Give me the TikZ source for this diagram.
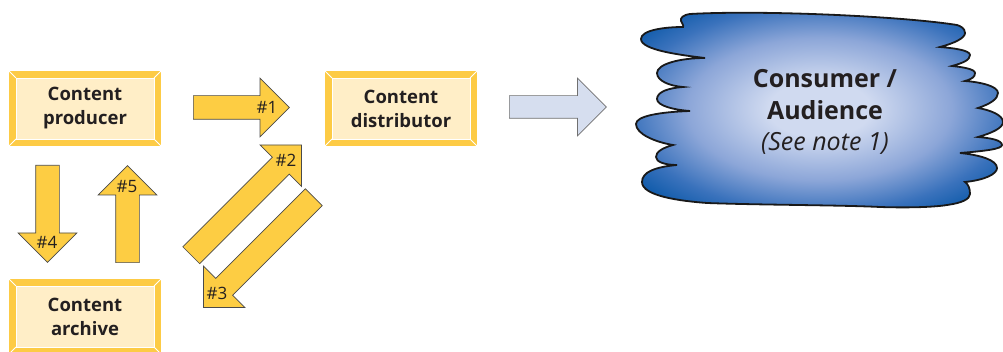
\documentclass[tikz,border=0pt]{standalone}
\usepackage{fontspec}
\setmainfont{Open Sans}
\usetikzlibrary{shapes.arrows,calc}

\definecolor{boxgold}{HTML}{FDCB45}
\definecolor{boxcream}{HTML}{FFEEC7}
\definecolor{arrowgold}{HTML}{FDCD43}
\definecolor{arrowline}{HTML}{4A4A4A}
\definecolor{paleblue}{HTML}{D6DEEF}
\definecolor{paleline}{HTML}{707070}
\definecolor{inktext}{HTML}{231F20}
\definecolor{cloudlight}{HTML}{D0DAF0}
\definecolor{cloudmid}{HTML}{8CA6D8}
\definecolor{clouddeep}{HTML}{3A72BC}
\definecolor{clouddark}{HTML}{0A58A8}

\pgfdeclareradialshading{cloudshade}{\pgfpoint{0bp}{0bp}}{%
  color(0bp)=(cloudlight); color(7bp)=(cloudlight);
  color(18bp)=(cloudmid); color(26bp)=(clouddeep);
  color(32bp)=(clouddark); color(50bp)=(clouddark)}

\tikzset{
  cbox/.style={minimum width=152pt, minimum height=75pt, inner sep=0pt,
    fill=boxgold, align=center, text=inktext,
    font=\fontsize{18.5}{24}\selectfont\bfseries,
    path picture={
      \coordinate (sw) at (path picture bounding box.south west);
      \coordinate (ne) at (path picture bounding box.north east);
      \coordinate (nw) at (path picture bounding box.north west);
      \coordinate (se) at (path picture bounding box.south east);
      \fill[boxcream, draw=white, line width=0.8pt]
        ($(sw)+(7pt,7pt)$) rectangle ($(ne)+(-7pt,-7pt)$);
      \draw[white, line width=0.8pt]
        (sw) -- ++(7pt,7pt) (ne) -- ++(-7pt,-7pt)
        (nw) -- ++(7pt,-7pt) (se) -- ++(-7pt,7pt);
    }},
  flowarrow/.style={single arrow, anchor=tail, inner xsep=0pt,
    inner ysep=11.5pt, single arrow head extend=17.5pt,
    fill=arrowgold, draw=arrowline, line width=0.7pt},
  steplabel/.style={text=inktext, inner sep=0pt,
    font=\fontsize{17}{20}\selectfont},
}

\begin{document}
\begin{tikzpicture}[x=1pt, y=-1pt]
  \useasboundingbox (0,0) rectangle (1003,352);

  % boxes
  \node[cbox] (producer)    at (85,108.5)  {Content\\producer};
  \node[cbox] (distributor) at (401,108.5) {Content\\distributor};
  \node[cbox] (archive)     at (85,316.5)  {Content\\archive};

  % numbered arrows
  \node[flowarrow, minimum height=96pt]              (a1) at (193,107.5) {};
  \node[flowarrow, minimum height=156pt, rotate=45]  (a2) at (191,255.5) {};
  \node[flowarrow, minimum height=156pt, rotate=225] (a3) at (314,197)   {};
  \node[flowarrow, minimum height=97pt, rotate=-90]  (a4) at (47.5,165)  {};
  \node[flowarrow, minimum height=97pt, rotate=90]   (a5) at (127.5,263) {};

  \node[steplabel] (l1) at (267,107) {\#1};
  \node[steplabel] (l2) at (286,160) {\#2};
  \node[steplabel] (l3) at (217,293) {\#3};
  \node[steplabel] (l4) at (47,242)  {\#4};
  \node[steplabel] (l5) at (127,187) {\#5};

  % arrow to the audience
  \node[single arrow, anchor=tail, inner xsep=0pt, inner ysep=11pt,
    single arrow head extend=17.5pt, minimum height=97pt,
    fill=paleblue, draw=paleline, line width=0.7pt] (deliver) at (509,107) {};

  % cloud
  \draw[line width=1.8pt, draw=black!90, shading=cloudshade]
    (683,27)
    .. controls (665,27) and (641,30) .. (641,39)
    .. controls (641,50) and (680,55) .. (705,58)
    .. controls (680,58) and (657,64) .. (657,73)
    .. controls (657,81) and (670,86) .. (683,87)
    .. controls (668,88) and (657,92) .. (657,99)
    .. controls (657,106) and (675,110) .. (690,111)
    .. controls (660,112) and (636,116) .. (636,124)
    .. controls (636,134) and (655,142) .. (673,145)
    .. controls (662,148) and (656,152) .. (656,157)
    .. controls (656,162) and (665,165) .. (677,165)
    .. controls (655,167) and (642,172) .. (642,182)
    .. controls (642,196) and (680,201) .. (707,203)
    .. controls (760,205) and (840,205) .. (880,207)
    .. controls (910,208) and (935,207) .. (947,205)
    .. controls (962,203) and (970,199) .. (970,194)
    .. controls (970,188) and (968,184) .. (965,182)
    .. controls (985,180) and (997,174) .. (997,168)
    .. controls (997,160) and (980,155) .. (960,153)
    .. controls (985,151) and (1002,149) .. (1002,145)
    .. controls (1002,140) and (990,138) .. (978,137)
    .. controls (992,133) and (1003,128) .. (1003,122)
    .. controls (1003,115) and (990,110) .. (978,108)
    .. controls (990,104) and (998,99) .. (998,93)
    .. controls (998,86) and (980,82) .. (965,81)
    .. controls (972,79) and (975,77) .. (975,73)
    .. controls (975,69) and (962,67) .. (952,66)
    .. controls (963,63) and (970,60) .. (970,55)
    .. controls (970,50) and (952,48) .. (940,47)
    .. controls (955,43) and (965,38) .. (965,33)
    .. controls (965,28) and (960,26) .. (957,25)
    .. controls (900,16) and (760,10) .. (690,14)
    .. controls (683,15) and (680,18) .. (681,21)
    .. controls (682,23) and (684,26) .. cycle;
  \node[align=center, text=inktext, font=\fontsize{25}{31.5}\selectfont]
    (consumer) at (825,112)
    {\bfseries Consumer /\\ \bfseries Audience\\ \itshape (See note 1)};
\end{tikzpicture}
\end{document}
